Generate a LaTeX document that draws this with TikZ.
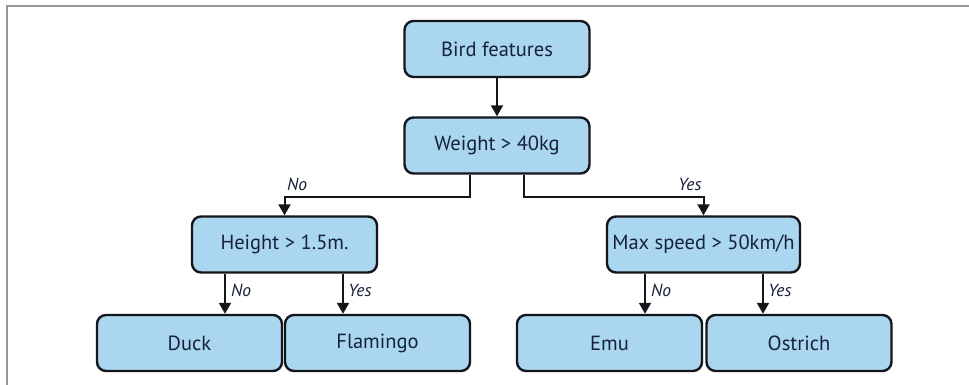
\documentclass[tikz,border=0pt]{standalone}
\usepackage{fontspec}
\setmainfont{PT Sans}
\usetikzlibrary{arrows.meta}
\definecolor{boxfill}{RGB}{170,214,240}
\definecolor{boxline}{RGB}{20,22,28}
\definecolor{inktext}{RGB}{22,34,58}
\definecolor{framegray}{RGB}{150,150,150}
\tikzset{
  decision/.style={draw=boxline, fill=boxfill, line width=2.4pt, rounded corners=9pt,
    minimum width=185pt, minimum height=56pt, inner sep=0pt, text=inktext,
    font=\fontsize{20.5}{24}\selectfont},
  widebox/.style={decision, minimum width=193pt},
  arr/.style={draw=boxline, line width=2pt,
    -{Triangle[length=11pt,width=12pt]}},
  branch/.style={text=inktext, font=\fontsize{17.5}{20}\selectfont\itshape, inner sep=0pt}
}
\begin{document}
\begin{tikzpicture}[x=1pt,y=-1pt]
  \useasboundingbox[fill=white] (0,0) rectangle (969,385);
  % page frame
  \draw[framegray, line width=2.2pt] (7,385) -- (7,6) -- (969,6);

  % boxes
  \node[decision] (bird)   at (497,49)    {Bird features};
  \node[decision] (weight) at (497,145.5) {Weight > 40kg};
  \node[decision] (height) at (284.5,244.5) {Height > 1.5m.};
  \node[widebox]  (speed)  at (703.5,244.5) {Max speed > 50km/h};
  \node[decision] (duck)   at (189.5,343) {Duck};
  \node[decision] (flam)   at (377.5,343) {Flamingo};
  \node[decision] (emu)    at (609.5,343) {Emu};
  \node[decision] (ostr)   at (799,343)   {Ostrich};

  % connector bends
  \coordinate (wl) at (470,197);
  \coordinate (wr) at (524,197);
  \coordinate (hl) at (225,0);
  \coordinate (hr) at (343,0);
  \coordinate (sl) at (645,0);
  \coordinate (sr) at (763,0);

  % connectors
  \draw[arr] (bird) -- (weight);
  \draw[arr] (weight.south -| wl) -- (wl) -| (height.north);
  \draw[arr] (weight.south -| wr) -- (wr) -| (speed.north);
  \draw[arr] (height.south -| hl) -- (duck.north -| hl);
  \draw[arr] (height.south -| hr) -- (flam.north -| hr);
  \draw[arr] (speed.south -| sl) -- (emu.north -| sl);
  \draw[arr] (speed.south -| sr) -- (ostr.north -| sr);

  % branch labels
  \node[branch] (l1) at (297,184) {No};
  \node[branch] (l2) at (690,184) {Yes};
  \node[branch] (l3) at (241,290) {No};
  \node[branch] (l4) at (360,290) {Yes};
  \node[branch] (l5) at (661,290) {No};
  \node[branch] (l6) at (780,290) {Yes};
\end{tikzpicture}
\end{document}
